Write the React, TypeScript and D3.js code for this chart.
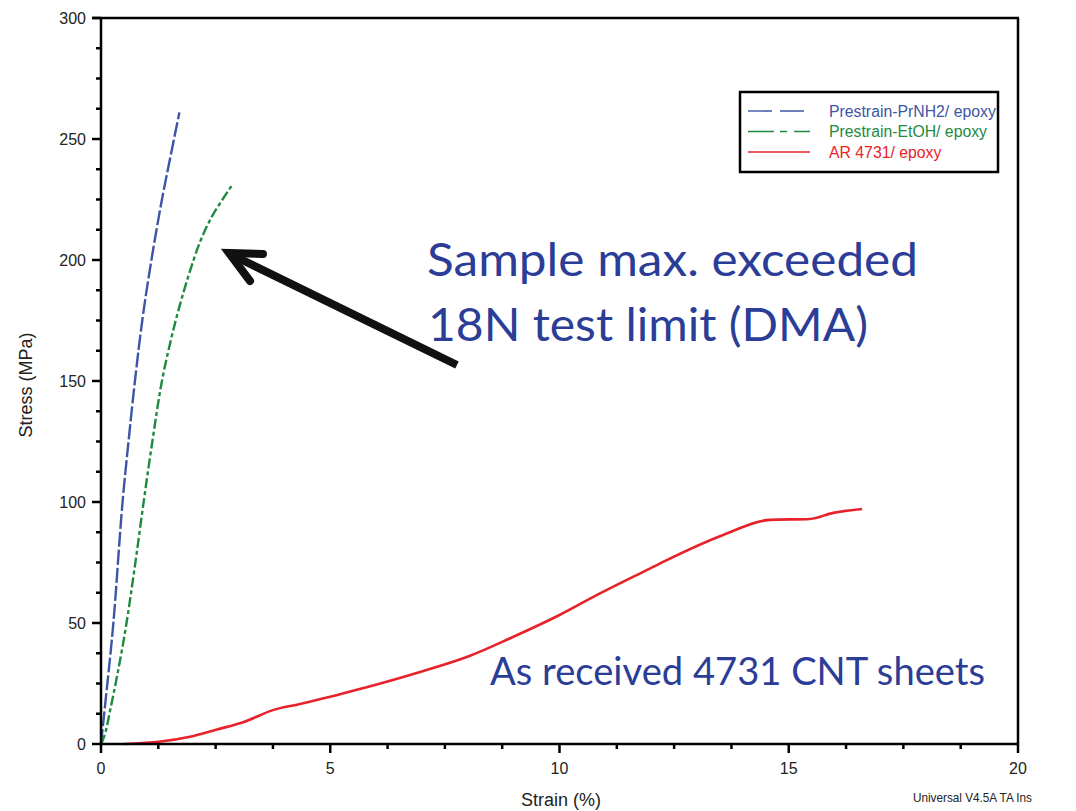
import React from "react";
import * as d3 from "d3";

const W = 1076;
const H = 811;

// Series data: strain (%) and stress (MPa)
const prnh2Strain = [0.0, 0.1, 0.27, 0.47, 0.6, 0.74, 0.9, 1.1, 1.3, 1.55, 1.71];
const prnh2Stress = [0, 18, 50, 100, 125, 150, 175, 200, 222, 246, 261];

const etohStrain = [0.0, 0.1, 0.2, 0.35, 0.54, 0.75, 0.93, 1.12, 1.3, 1.5, 1.7, 1.9, 2.15, 2.42, 2.65, 2.86];
const etohStress = [0, 5, 14, 28, 48, 75, 100, 125, 147, 165, 180, 193, 207, 218, 225, 231];

const arStrain = [0.5, 1.3, 1.94, 2.53, 3.1, 3.75, 4.34, 5.0, 5.6, 6.96, 8.05, 8.9, 10.0, 10.82, 11.97, 12.34, 13.57, 14.59, 15.46, 15.97, 16.6];
const arStress = [0, 1, 3, 6, 9, 14, 16.5, 19.5, 22.5, 29.8, 36.5, 43.5, 53.3, 61.6, 72.5, 76, 86.4, 92.6, 93, 95.5, 97.1];

const seriesNames = ["Prestrain-PrNH2/ epoxy", "Prestrain-EtOH/ epoxy", "AR 4731/ epoxy"];
const seriesColors = ["#3d55a5", "#1e8a3e", "#e8222b"];
const seriesDash = ["15,3", "10,3,4,3", ""];
const legendDash = ["24,8", "26,6,7,7", ""];

const xTickMajor = [0, 5, 10, 15, 20];
const yTickMajor = [0, 50, 100, 150, 200, 250, 300];

export default function App() {
  const x = d3.scaleLinear().domain([0, 20]).range([101, 1018]);
  const y = d3.scaleLinear().domain([0, 300]).range([744, 18]);

  const xMinor = d3.range(0, 20.001, 1.25).filter((v) => !xTickMajor.includes(v));
  const yMinor = d3.range(0, 300.001, 12.5).filter((v) => !yTickMajor.includes(v));

  const line = d3
    .line<[number, number]>()
    .x((d) => x(d[0]))
    .y((d) => y(d[1]))
    .curve(d3.curveMonotoneX);

  const series = [
    prnh2Strain.map((s, i) => [s, prnh2Stress[i]] as [number, number]),
    etohStrain.map((s, i) => [s, etohStress[i]] as [number, number]),
    arStrain.map((s, i) => [s, arStress[i]] as [number, number]),
  ];

  const axisFont = "'Liberation Sans', Arial, sans-serif";
  const annFont = "Lato, 'Open Sans', sans-serif";
  const annColor = "#2b3d96";

  return (
    <svg
      width={W}
      height={H}
      style={{ position: "absolute", left: 0, top: 0, background: "#fff" }}
    >
      <defs>
        <clipPath id="legClip">
          <rect x={740} y={92} width={258} height={80} />
        </clipPath>
      </defs>
      <rect x={0} y={0} width={W} height={H} fill="#fff" />

      {/* series */}
      {series.map((d, i) => (
        <path
          key={i}
          d={line(d) || ""}
          fill="none"
          stroke={seriesColors[i]}
          strokeWidth={i === 2 ? 2.6 : 2.4}
          strokeDasharray={seriesDash[i] || undefined}
        />
      ))}

      {/* frame */}
      <line x1={92} x2={1019} y1={y(300)} y2={y(300)} stroke="#000" strokeWidth={2.5} />
      <line x1={x(20)} x2={x(20)} y1={y(300)} y2={y(0)} stroke="#000" strokeWidth={2.5} />
      <line x1={x(0)} x2={x(0)} y1={y(300)} y2={y(0) + 1} stroke="#000" strokeWidth={2.5} />
      <line x1={x(0) - 1} x2={x(20) + 1} y1={y(0)} y2={y(0)} stroke="#000" strokeWidth={2.5} />

      {/* y ticks */}
      {yTickMajor.map((v) => (
        <g key={"ym" + v}>
          <line x1={x(0) - 9} x2={x(0)} y1={y(v)} y2={y(v)} stroke="#000" strokeWidth={2.5} />
          <text
            x={86}
            y={y(v) + 6}
            textAnchor="end"
            fontFamily={axisFont}
            fontSize={16}
            fill="#222"
          >
            {v}
          </text>
        </g>
      ))}
      {yMinor.map((v) => (
        <line key={"yn" + v} x1={x(0) - 5} x2={x(0)} y1={y(v)} y2={y(v)} stroke="#000" strokeWidth={2.5} />
      ))}

      {/* x ticks */}
      {xTickMajor.map((v) => (
        <g key={"xm" + v}>
          <line x1={x(v)} x2={x(v)} y1={y(0)} y2={y(0) + 9} stroke="#000" strokeWidth={2.5} />
          <text
            x={x(v)}
            y={774}
            textAnchor="middle"
            fontFamily={axisFont}
            fontSize={16}
            fill="#222"
          >
            {v}
          </text>
        </g>
      ))}
      {xMinor.map((v) => (
        <line key={"xn" + v} x1={x(v)} x2={x(v)} y1={y(0)} y2={y(0) + 5} stroke="#000" strokeWidth={2.5} />
      ))}

      {/* axis titles */}
      <text x={561} y={806} textAnchor="middle" fontFamily={axisFont} fontSize={18} fill="#222">
        Strain (%)
      </text>
      <text
        transform={`translate(32,385) rotate(-90)`}
        textAnchor="middle"
        fontFamily={axisFont}
        fontSize={18}
        fill="#222"
      >
        Stress (MPa)
      </text>

      {/* footer */}
      <text
        x={913}
        y={802}
        fontFamily={axisFont}
        fontSize={13.5}
        fill="#222"
        textLength={119}
        lengthAdjust="spacingAndGlyphs"
      >
        Universal V4.5A TA Ins
      </text>

      {/* legend */}
      <rect x={740} y={92} width={258} height={80} fill="#fff" />
      <g clipPath="url(#legClip)">
        {seriesNames.map((n, i) => (
          <g key={"lg" + i}>
            <line
              x1={748}
              x2={810}
              y1={111 + i * 20.5}
              y2={111 + i * 20.5}
              stroke={seriesColors[i]}
              strokeWidth={1.4}
              strokeDasharray={legendDash[i] || undefined}
            />
            <text
              x={829}
              y={116.5 + i * 20.5}
              fontFamily={axisFont}
              fontSize={15.8}
              fill={seriesColors[i]}
            >
              {n}
            </text>
          </g>
        ))}
      </g>
      <rect x={740} y={92} width={258} height={80} fill="none" stroke="#000" strokeWidth={2.5} />

      {/* arrow annotation */}
      <line x1={457} x2={232} y1={365} y2={255} stroke="#111" strokeWidth={8} />
      <polyline
        points="263,254 229,253 250,281"
        fill="none"
        stroke="#111"
        strokeWidth={8}
        strokeLinejoin="miter"
        strokeLinecap="round"
      />

      <text
        x={427}
        y={276}
        fontFamily={annFont}
        fontSize={46}
        fill={annColor}
        textLength={491}
        lengthAdjust="spacingAndGlyphs"
      >
        Sample max. exceeded
      </text>
      <text
        x={428}
        y={341}
        fontFamily={annFont}
        fontSize={46}
        fill={annColor}
        textLength={440}
        lengthAdjust="spacingAndGlyphs"
      >
        18N test limit (DMA)
      </text>
      <text
        x={490}
        y={685}
        fontFamily={annFont}
        fontSize={38}
        fill={annColor}
        textLength={495}
        lengthAdjust="spacingAndGlyphs"
      >
        As received 4731 CNT sheets
      </text>
    </svg>
  );
}
